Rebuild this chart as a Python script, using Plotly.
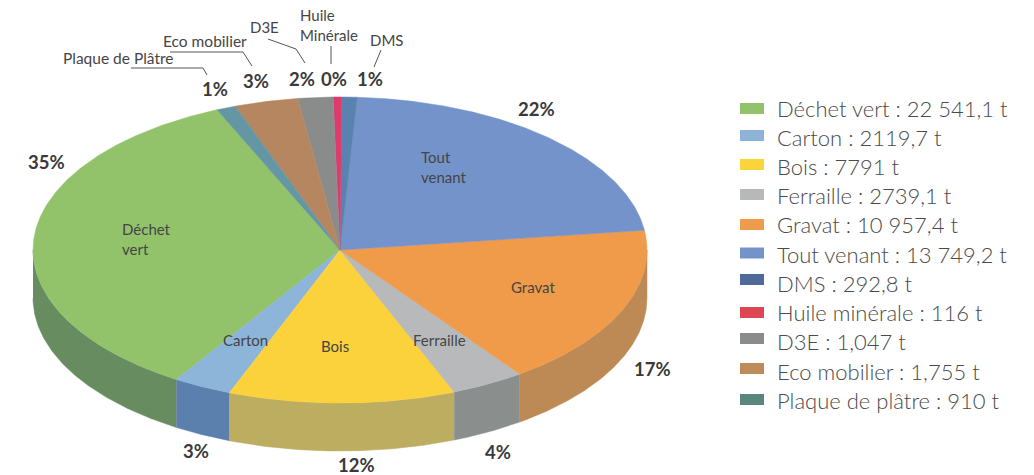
import numpy as np
import plotly.graph_objects as go

# --- data ---
categories = ["Déchet vert", "Carton", "Bois", "Ferraille", "Gravat", "Tout venant",
              "DMS", "Huile minérale", "D3E", "Eco mobilier", "Plaque de plâtre"]
slice_percent = [34.5, 3.08, 11.93, 3.89, 17.1, 22.05, 0.8, 0.45, 1.85, 3.35, 1.0]
legend_values = ["22 541,1 t", "2119,7 t", "7791 t", "2739,1 t", "10 957,4 t", "13 749,2 t",
                 "292,8 t", "116 t", "1,047 t", "1,755 t", "910 t"]
percent_labels = ["35%", "3%", "12%", "4%", "17%", "22%", "1%", "0%", "2%", "3%", "1%"]

# --- styles ---
top_colors = ["#92C36B", "#8DB4D9", "#FCD23C", "#B8B9BB", "#EF9B4A", "#7493CA",
              "#5A82B0", "#DE3A6C", "#8A8C8B", "#B5865F", "#6497A3"]
side_colors = ["#678C5F", "#5C80AE", "#BDAD60", "#8A8E8D", "#BD8A56", "#5F7AA8",
               "#4A6A90", "#B03055", "#707270", "#94704F", "#517C86"]
legend_colors = ["#92C36B", "#8DB3D8", "#FBD33B", "#B7B8BA", "#EF9B4C", "#7493C9",
                 "#4F6A9A", "#DD4653", "#8A8C8B", "#BC8D58", "#5A8680"]

CX, CY, RX, RY, DEPTH = 340, 250, 307, 153, 48
START = 113.6
TEXT = "#454545"
FONT = "Lato"

edges = START + np.concatenate([[0], np.cumsum(slice_percent) / sum(slice_percent) * 100]) * 3.6


def rim(a0, a1, drop=0.0):
    t = np.radians(np.linspace(a0, a1, max(2, int(abs(a1 - a0) * 2) + 2)))
    return CX + RX * np.cos(t), CY - RY * np.sin(t) + drop


fig = go.Figure()

# outer wall: only the front half of the disc shows
for i, cat in enumerate(categories):
    a0, a1 = max(edges[i], 180), min(edges[i + 1], 360)
    if a1 <= a0:
        continue
    xt, yt = rim(a0, a1)
    xb, yb = rim(a1, a0, DEPTH)
    fig.add_trace(go.Scatter(x=np.concatenate([xt, xb]), y=np.concatenate([yt, yb]),
                             mode="lines", fill="toself", fillcolor=side_colors[i],
                             line=dict(width=0.5, color=side_colors[i]),
                             name=cat, showlegend=False, hoverinfo="skip"))

# top face
for i, cat in enumerate(categories):
    xt, yt = rim(edges[i], edges[i + 1])
    fig.add_trace(go.Scatter(x=np.concatenate([[CX], xt, [CX]]), y=np.concatenate([[CY], yt, [CY]]),
                             mode="lines", fill="toself", fillcolor=top_colors[i],
                             line=dict(width=0.5, color=top_colors[i]),
                             name=cat, showlegend=False, hoverinfo="name"))

annotations = []


def note(x, y, text, size, anchor="center", weight=400, color=TEXT):
    annotations.append(dict(x=x, y=y, xref="x", yref="y", text=text, showarrow=False,
                            xanchor=anchor, yanchor="middle", align=anchor,
                            font=dict(family=FONT, size=size, color=color, weight=weight)))


# percent labels, same order as categories
pct_pos = [(46, 162), (196, 451), (356, 465), (498, 452), (652, 369), (536, 109),
           (370, 79), (334, 79), (302, 79), (256, 81), (215, 89)]
for (x, y), t in zip(pct_pos, percent_labels):
    note(x, y, t, 18.5, weight=700, color="#3A3A3A")

# names on the slices and callouts (two-line names wrap inside one text)
LS = 15
note(120, 239, "Déchet<br>vert", LS, "left")
note(245, 340, "Carton", LS)
note(335, 346, "Bois", LS)
note(439, 340, "Ferraille", LS)
note(533, 287, "Gravat", LS)
note(419, 167, "Tout<br>venant", LS, "left")
note(118, 58, "Plaque de Plâtre", LS + 0.5)
note(205, 41, "Eco mobilier", LS + 0.5)
note(264, 27, "D3E", LS)
note(298, 25, "Huile<br>Minérale", LS, "left")
note(386, 40, "DMS", LS)

# leader lines
leaders = [
    "M131,68 L203,68 L207,75",
    "M170,52 L243,52 L252,66",
    "M268,39 L296,49 L305,63",
    "M331,46 L331,64",
    "M381,50 L374,67",
]
shapes = [dict(type="path", path=p, xref="x", yref="y", line=dict(color="#555555", width=1))
          for p in leaders]

# legend
swatch_y = [108.5, 135.5, 164.5, 194.5, 224.5, 253, 279.5, 312.5, 338.5, 368.5, 399.5]
text_y = [108, 137, 166, 195, 224, 254, 283, 312, 341, 371, 400]
for i, cat in enumerate(categories):
    shapes.append(dict(type="rect", xref="x", yref="y", x0=740, x1=764,
                       y0=swatch_y[i] - 5.5, y1=swatch_y[i] + 5.5,
                       fillcolor=legend_colors[i], line=dict(width=0)))
    note(775, text_y[i], f"{cat} : {legend_values[i]}", 22, "left", weight=300, color="#4A4A4A")

fig.update_layout(
    width=1034, height=475, margin=dict(l=0, r=0, t=0, b=0),
    paper_bgcolor="white", plot_bgcolor="white", showlegend=False,
    xaxis=dict(range=[0, 1034], visible=False, fixedrange=True),
    yaxis=dict(range=[475, 0], visible=False, fixedrange=True),
    annotations=annotations, shapes=shapes,
)
fig.write_html("out.html", config={"displayModeBar": False},
               post_script="document.body.style.margin='0';")
